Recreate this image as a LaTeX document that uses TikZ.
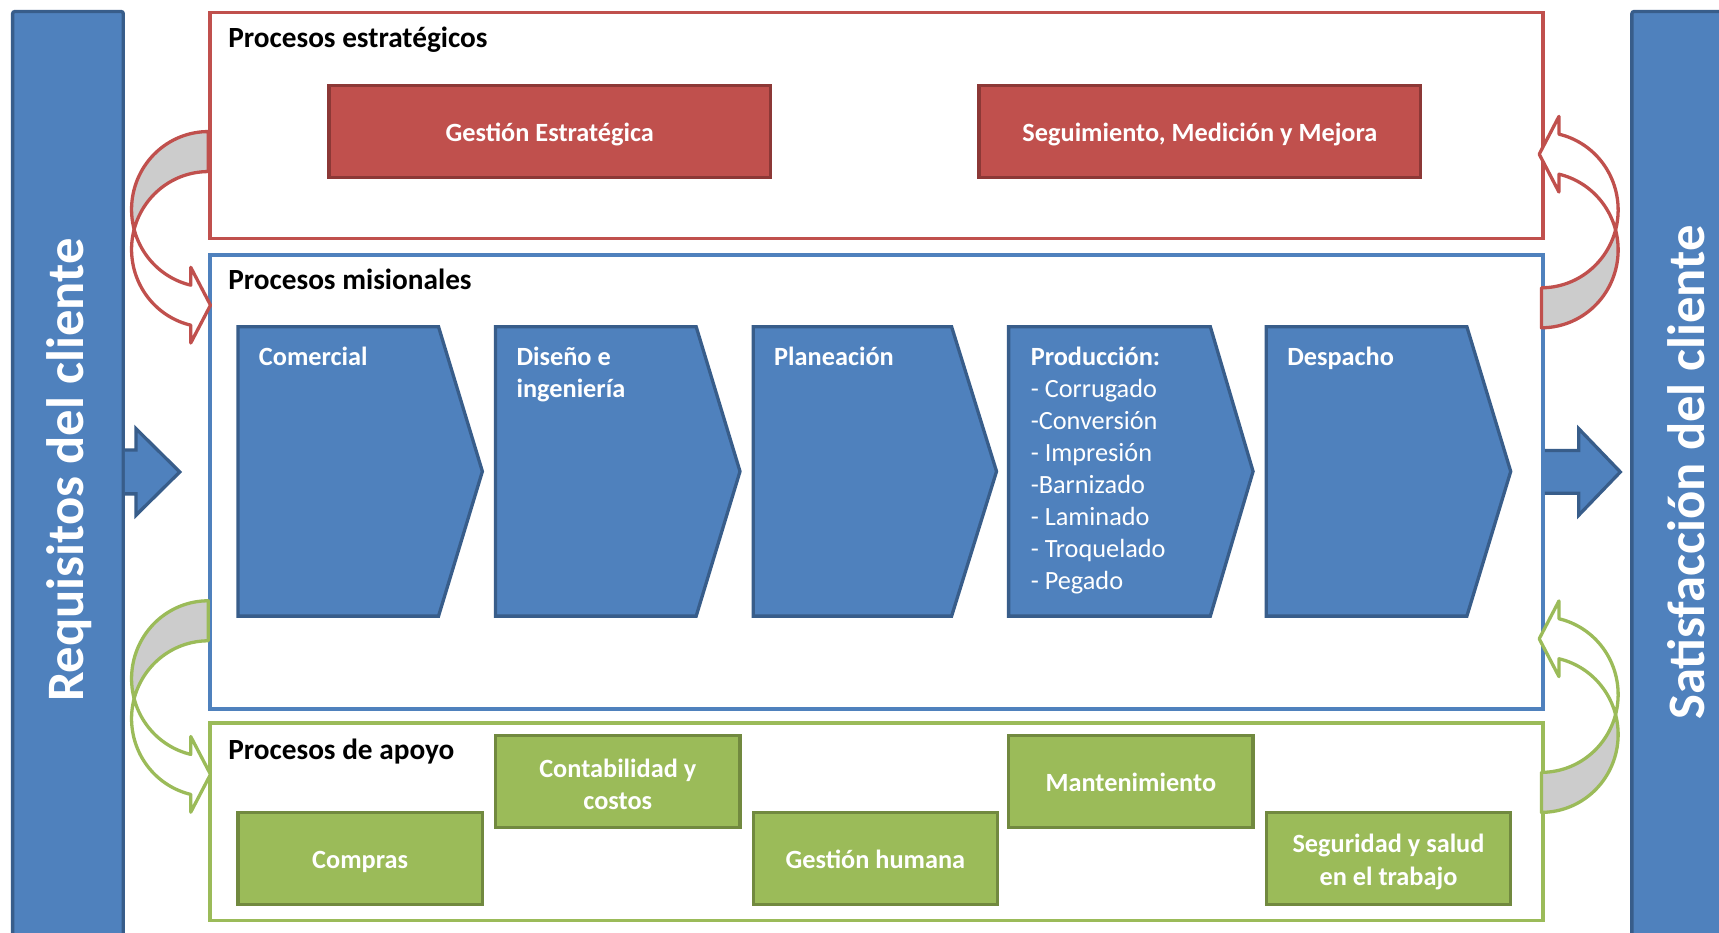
\documentclass[tikz,border=0pt]{standalone}
\usepackage{fontspec}
\setmainfont{Carlito}
\definecolor{blueF}{HTML}{4F81BD}
\definecolor{blueD}{HTML}{385D8A}
\definecolor{redF}{HTML}{C0504D}
\definecolor{redD}{HTML}{8C3836}
\definecolor{greenF}{HTML}{9BBB59}
\definecolor{greenD}{HTML}{71893F}
\definecolor{backG}{HTML}{CCCCCC}
\newcommand\curvarr[2]{%
\begin{scope}[#1]
 \filldraw[fill=backG,draw=#2,line width=3pt,line join=round]
   plot[domain=90:194.9,samples=40] ({70*cos(\x)},{-71+71*sin(\x)})
   -- plot[domain=165.1:90,samples=40] ({70*cos(\x)},{-107.5+71*sin(\x)}) -- cycle;
 \filldraw[fill=white,draw=#2,line width=3pt,line join=round]
   plot[domain=194.9:256.8,samples=30] ({70*cos(\x)},{-71+71*sin(\x)})
   -- (-16,-123.85) -- (2,-158.35) -- (-16,-192.85)
   -- plot[domain=256.8:165.1,samples=40] ({70*cos(\x)},{-107.5+71*sin(\x)}) -- cycle;
\end{scope}}
\begin{document}
\begin{tikzpicture}[x=1pt,y=-1pt,
  bar/.style={draw=blueD,fill=blueF,line width=3pt,rounded corners=2pt,anchor=north west,inner sep=0pt},
  cont/.style={line width=3.2pt,fill=white,anchor=north west,inner sep=0pt},
  heading/.style={font=\fontsize{26.7}{32}\selectfont\bfseries,anchor=base west,inner sep=0pt},
  redbox/.style={draw=redD,fill=redF,line width=3pt,minimum width=403pt,minimum height=84pt,inner sep=0pt},
  greenbox/.style={draw=greenD,fill=greenF,line width=3pt,minimum width=223pt,minimum height=84pt,inner sep=0pt},
  boxtext/.style={text=white,font=\fontsize{24}{29.3}\selectfont\bfseries,anchor=base,inner sep=0pt},
  chev/.style={draw=blueD,fill=blueF,line width=3pt,line join=miter},
  chevtext/.style={text=white,font=\fontsize{24}{29.3}\selectfont,anchor=base west,inner sep=0pt},
  blockarrow/.style={draw=blueD,fill=blueF,line width=3pt,line join=miter},
  sidetext/.style={text=white,font=\fontsize{48}{58}\selectfont\bfseries,rotate=90,anchor=base,inner sep=0pt}]
\clip (0,0) rectangle (1568,851);
\fill[white] (0,0) rectangle (1568,851);

% side bars
\node[bar,minimum width=101pt,minimum height=900pt] (reqbar) at (10,9) {};
\node[bar,minimum width=120pt,minimum height=900pt] (satbar) at (1487,9) {};
\node[sidetext] (req) at (76,429) {Requisitos del cliente};
\node[sidetext] (sat) at (1555,431) {Satisfacción del cliente};

% containers
\node[cont,draw=redF,minimum width=1216pt,minimum height=206pt] (estr) at (190,10) {};
\node[cont,draw=blueF,minimum width=1216pt,minimum height=414pt] (mis) at (190,231) {};
\node[cont,draw=greenF,minimum width=1216pt,minimum height=180pt] (apo) at (190,658) {};

\node[heading] (hestr) at (208,43.5) {Procesos estratégicos};
\node[heading] (hmis) at (208,264.5) {Procesos misionales};
\node[heading] (hapo) at (208,692.5) {Procesos de apoyo};

% strategic boxes
\node[redbox] (ge) at (501.5,120) {};
\node[boxtext] (get) at (501.5,129) {Gestión Estratégica};
\node[redbox] (sm) at (1094.5,120) {};
\node[boxtext] (smt) at (1094.5,129) {Seguimiento, Medición y Mejora};

% chevrons
\draw[chev] (217,298) -- (400,298) -- (440,430) -- (400,562) -- (217,562) -- cycle;
\draw[chev] (452,298) -- (635,298) -- (675,430) -- (635,562) -- (452,562) -- cycle;
\draw[chev] (687,298) -- (868,298) -- (909,430) -- (868,562) -- (687,562) -- cycle;
\draw[chev] (920,298) -- (1104,298) -- (1143,430) -- (1104,562) -- (920,562) -- cycle;
\draw[chev] (1155,298) -- (1338,298) -- (1378,430) -- (1338,562) -- (1155,562) -- cycle;

\node[chevtext] (c1) at (236,333) {\textbf{Comercial}};
\node[chevtext] (c2) at (471,333) {\begin{tabular}[t]{@{}l@{}}\textbf{Diseño e}\\\textbf{ingeniería}\end{tabular}};
\node[chevtext] (c3) at (706,333) {\textbf{Planeación}};
\node[chevtext] (c4) at (940,333) {\begin{tabular}[t]{@{}l@{}}\textbf{Producción:}\\- Corrugado\\-Conversión\\- Impresión\\-Barnizado\\- Laminado\\- Troquelado\\- Pegado\end{tabular}};
\node[chevtext] (c5) at (1174,333) {\textbf{Despacho}};

% support boxes
\node[greenbox] (g1) at (328.5,783) {};
\node[boxtext] (g1t) at (328.5,792) {Compras};
\node[greenbox] (g2) at (563.5,713) {};
\node[boxtext] (g2t) at (563.5,709) {\begin{tabular}[t]{@{}c@{}}Contabilidad y\\costos\end{tabular}};
\node[greenbox] (g3) at (798.5,783) {};
\node[boxtext] (g3t) at (798.5,792) {Gestión humana};
\node[greenbox] (g4) at (1031.5,713) {};
\node[boxtext] (g4t) at (1031.5,722) {Mantenimiento};
\node[greenbox] (g5) at (1266.5,783) {};
\node[boxtext] (g5t) at (1266.5,778) {\begin{tabular}[t]{@{}c@{}}Seguridad y salud\\en el trabajo\end{tabular}};

% block arrows
\filldraw[blockarrow] (reqbar.east |- 0,410.5) -- (124,410.5) -- (124,391) -- (164,430.5) -- (124,470) -- (124,450.5) -- (reqbar.east |- 0,450.5);
\filldraw[blockarrow] (mis.east |- 0,411) -- (1440,411) -- (1440,391) -- (1478,430.5) -- (1440,470) -- (1440,450) -- (mis.east |- 0,450);

% curved arrows
\curvarr{shift={(190,120)},yscale=-1}{redF}
\curvarr{shift={(190,548)},yscale=-1}{greenF}
\curvarr{shift={(1406,299)},xscale=-1}{redF}
\curvarr{shift={(1406,741)},xscale=-1}{greenF}
\end{tikzpicture}
\end{document}
